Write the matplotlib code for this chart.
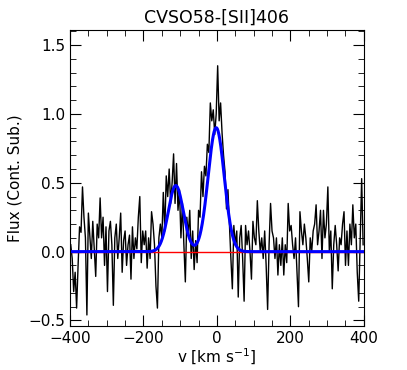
import numpy as np
import matplotlib
matplotlib.use('Agg')
import matplotlib.pyplot as plt
from matplotlib.ticker import MultipleLocator

# velocity channels (km/s), 4 km/s spacing
v_start = -398
v_step = 4
flux = [
    0.05, -0.05, -0.29, -0.15, -0.41, -0.10, 0.18, 0.14, 0.47, 0.25,
    0.10, -0.46, 0.28, 0.12, -0.05, 0.22, 0.02, -0.18, 0.20, 0.10,
    0.39, 0.10, 0.25, -0.10, 0.18, -0.29, 0.15, 0.22, 0.05, -0.39,
    0.10, 0.20, -0.05, 0.10, 0.28, -0.15, 0.08, 0.15, -0.10, 0.05,
    0.12, -0.20, 0.18, -0.05, 0.10, 0.02, 0.25, 0.40, -0.08, 0.15,
    0.05, 0.15, -0.12, 0.10, -0.05, 0.29, 0.20, 0.05, -0.25, -0.41,
    0.10, 0.20, 0.10, 0.43, 0.15, 0.55, 0.40, 0.60, 0.35, 0.50,
    0.71, 0.35, 0.64, 0.30, 0.45, 0.10, 0.35, 0.05, -0.22, 0.25,
    0.12, 0.30, -0.05, 0.15, -0.13, 0.08, -0.08, 0.30, 0.25, 0.58,
    0.40, 0.62, 0.55, 0.78, 0.72, 1.08, 0.95, 1.03, 0.85, 1.00,
    1.35, 0.95, 1.08, 0.86, 0.70, 0.58, 0.31, 0.45, 0.20, -0.05,
    -0.27, 0.19, 0.05, 0.15, -0.33, 0.10, 0.19, -0.05, -0.36, 0.19,
    0.05, 0.15, 0.00, -0.20, 0.22, 0.10, 0.05, 0.37, 0.15, 0.00,
    0.10, -0.05, 0.15, -0.10, -0.42, 0.05, 0.35, 0.15, 0.10, -0.05,
    0.10, -0.17, 0.05, -0.10, 0.10, -0.17, 0.05, -0.08, 0.35, 0.15,
    0.19, 0.05, -0.05, 0.10, -0.15, -0.40, 0.29, 0.15, 0.05, 0.20,
    0.10, -0.05, -0.22, 0.10, 0.00, 0.15, 0.20, 0.34, 0.05, 0.15,
    0.30, -0.05, 0.30, 0.10, 0.20, 0.47, 0.00, 0.15, -0.27, 0.05,
    0.19, 0.05, -0.14, 0.10, 0.05, 0.20, 0.29, -0.10, 0.15, -0.10,
    0.20, 0.05, 0.34, 0.10, 0.20, -0.15, -0.36, 0.10, 0.53, 0.05,
]
vel = v_start + v_step * np.arange(len(flux))

# two-component gaussian fit: (amplitude, centre, sigma)
fit_amp = [0.48, 0.90]
fit_cen = [-112.0, -2.0]
fit_sig = [20.5, 22.0]

vfine = np.linspace(-400, 400, 1601)
model = np.zeros_like(vfine)
for a, c, s in zip(fit_amp, fit_cen, fit_sig):
    model += a * np.exp(-0.5 * ((vfine - c) / s) ** 2)

fig = plt.figure(figsize=(4.07, 3.70), dpi=100)
ax = fig.add_axes([0.172, 0.119, 0.722, 0.800])

ax.plot(vel, flux, color='black', lw=1.0)
ax.axhline(0.0, color='red', lw=1.0)
ax.plot(vfine, model, color='blue', lw=2.2)

ax.set_xlim(-400, 400)
ax.set_ylim(-0.54, 1.61)
ax.xaxis.set_major_locator(MultipleLocator(200))
ax.xaxis.set_minor_locator(MultipleLocator(50))
ax.yaxis.set_major_locator(MultipleLocator(0.5))
ax.yaxis.set_minor_locator(MultipleLocator(0.1))
ax.tick_params(which='both', direction='in', top=True, right=True, labelsize=11)
ax.tick_params(which='major', length=8)
ax.tick_params(which='minor', length=4)

ax.set_xlabel(r'v [km s$^{-1}$]', fontsize=11, labelpad=1)
ax.set_ylabel('Flux (Cont. Sub.)', fontsize=11)
ax.set_title('CVSO58-[SII]406', fontsize=12.5, pad=5)

fig.savefig('out.png', dpi=100)
